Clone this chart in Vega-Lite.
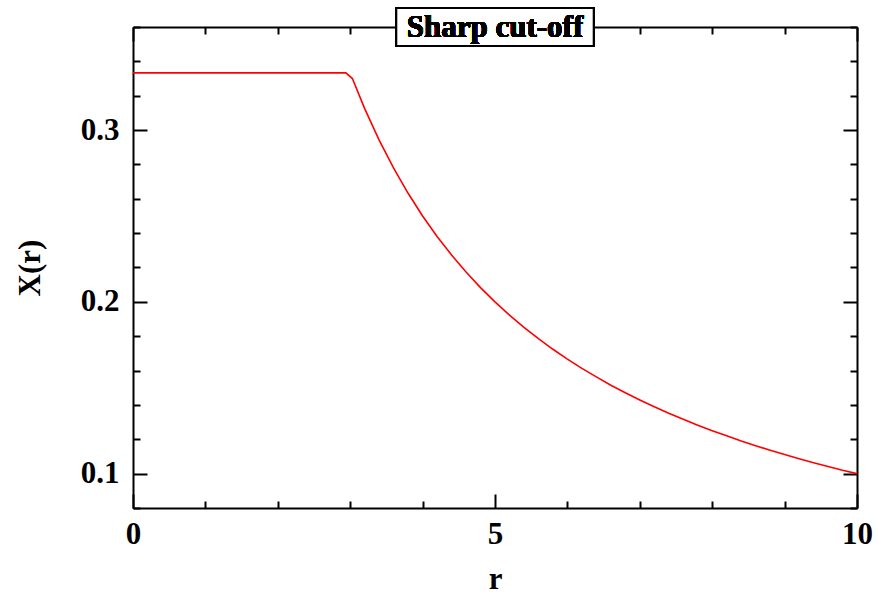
{
  "$schema": "https://vega.github.io/schema/vega-lite/v6.json",
  "width": 724,
  "height": 481,
  "autosize": {"type": "none"},
  "padding": {"left": 133, "top": 27, "right": 21, "bottom": 88},
  "background": "white",
  "config": {
    "view": {"stroke": null},
    "axis": {
      "labelFont": "Liberation Serif",
      "labelFontWeight": "bold",
      "labelFontSize": 31,
      "labelColor": "black",
      "titleFont": "Liberation Serif",
      "titleFontWeight": "bold",
      "titleFontSize": 31,
      "titleColor": "black",
      "domainColor": "black",
      "domainWidth": 2,
      "tickColor": "black",
      "tickWidth": 2,
      "grid": false
    }
  },
  "data": {
    "values": [
      {"r": 0, "X": 0.3333},
      {"r": 2.94, "X": 0.3333},
      {"r": 3.03, "X": 0.3300},
      {"r": 3.2, "X": 0.3125},
      {"r": 3.4, "X": 0.2941},
      {"r": 3.6, "X": 0.2778},
      {"r": 3.8, "X": 0.2632},
      {"r": 4.0, "X": 0.25},
      {"r": 4.2, "X": 0.2381},
      {"r": 4.4, "X": 0.2273},
      {"r": 4.6, "X": 0.2174},
      {"r": 4.8, "X": 0.2083},
      {"r": 5.0, "X": 0.2},
      {"r": 5.2, "X": 0.1923},
      {"r": 5.4, "X": 0.1852},
      {"r": 5.6, "X": 0.1786},
      {"r": 5.8, "X": 0.1724},
      {"r": 6.0, "X": 0.1667},
      {"r": 6.2, "X": 0.1613},
      {"r": 6.4, "X": 0.1563},
      {"r": 6.6, "X": 0.1515},
      {"r": 6.8, "X": 0.1471},
      {"r": 7.0, "X": 0.1429},
      {"r": 7.2, "X": 0.1389},
      {"r": 7.4, "X": 0.1351},
      {"r": 7.6, "X": 0.1316},
      {"r": 7.8, "X": 0.1282},
      {"r": 8.0, "X": 0.125},
      {"r": 8.2, "X": 0.1220},
      {"r": 8.4, "X": 0.1190},
      {"r": 8.6, "X": 0.1163},
      {"r": 8.8, "X": 0.1136},
      {"r": 9.0, "X": 0.1111},
      {"r": 9.2, "X": 0.1087},
      {"r": 9.4, "X": 0.1064},
      {"r": 9.6, "X": 0.1042},
      {"r": 9.8, "X": 0.1020},
      {"r": 10, "X": 0.1}
    ]
  },
  "resolve": {"axis": {"x": "independent", "y": "independent"}},
  "layer": [
    {
      "mark": {"type": "line", "color": "red", "strokeWidth": 1.6, "clip": true},
      "encoding": {
        "x": {"field": "r", "type": "quantitative",
          "scale": {"domain": [0, 10], "nice": false, "zero": false},
          "axis": {"orient": "bottom", "values": [0, 5, 10], "tickSize": -14, "labelPadding": 25, "title": "r", "titlePadding": 15, "format": "d", "labelFlush": false}},
        "y": {"field": "X", "type": "quantitative",
          "scale": {"domain": [0.08, 0.36], "nice": false, "zero": false},
          "axis": {"orient": "left", "values": [0.1, 0.2, 0.3], "tickSize": -14, "labelPadding": 28, "title": "X(r)", "titlePadding": 34, "format": ".1f", "labelFlush": false}}
      }
    },
    {
      "mark": {"type": "line", "strokeOpacity": 0},
      "encoding": {
        "x": {"field": "r", "type": "quantitative",
          "axis": {"orient": "bottom", "values": [1, 2, 3, 4, 6, 7, 8, 9], "tickSize": -7, "labels": false, "domain": false, "title": null}},
        "y": {"field": "X", "type": "quantitative",
          "axis": {"orient": "left", "values": [0.08, 0.12, 0.14, 0.16, 0.18, 0.22, 0.24, 0.26, 0.28, 0.32, 0.34, 0.36], "tickSize": -7, "labels": false, "domain": false, "title": null}}
      }
    },
    {
      "mark": {"type": "line", "strokeOpacity": 0},
      "encoding": {
        "x": {"field": "r", "type": "quantitative",
          "axis": {"orient": "top", "values": [0, 5, 10], "tickSize": -14, "labels": false, "title": null}},
        "y": {"field": "X", "type": "quantitative",
          "axis": {"orient": "right", "values": [0.1, 0.2, 0.3], "tickSize": -14, "labels": false, "title": null}}
      }
    },
    {
      "mark": {"type": "line", "strokeOpacity": 0},
      "encoding": {
        "x": {"field": "r", "type": "quantitative",
          "axis": {"orient": "top", "values": [1, 2, 3, 4, 6, 7, 8, 9], "tickSize": -7, "labels": false, "domain": false, "title": null}},
        "y": {"field": "X", "type": "quantitative",
          "axis": {"orient": "right", "values": [0.08, 0.12, 0.14, 0.16, 0.18, 0.22, 0.24, 0.26, 0.28, 0.32, 0.34, 0.36], "tickSize": -7, "labels": false, "domain": false, "title": null}}
      }
    },
    {
      "mark": {"type": "point", "shape": "M-1,-0.19H1V0.19H-1Z", "size": 38809, "filled": true, "fill": "white", "stroke": "black", "strokeWidth": 1.6, "opacity": 1, "fillOpacity": 1, "clip": false},
      "encoding": {
        "x": {"datum": 5, "type": "quantitative", "axis": null},
        "y": {"datum": 0.36, "type": "quantitative", "axis": null}
      }
    },
    {
      "mark": {"type": "text", "text": "Sharp cut-off", "font": "Liberation Serif", "fontWeight": "bold", "fontSize": 31, "color": "black", "baseline": "middle", "align": "center", "clip": false, "dy": 1},
      "encoding": {
        "x": {"datum": 5, "type": "quantitative", "axis": null},
        "y": {"datum": 0.36, "type": "quantitative", "axis": null}
      }
    }
  ]
}
